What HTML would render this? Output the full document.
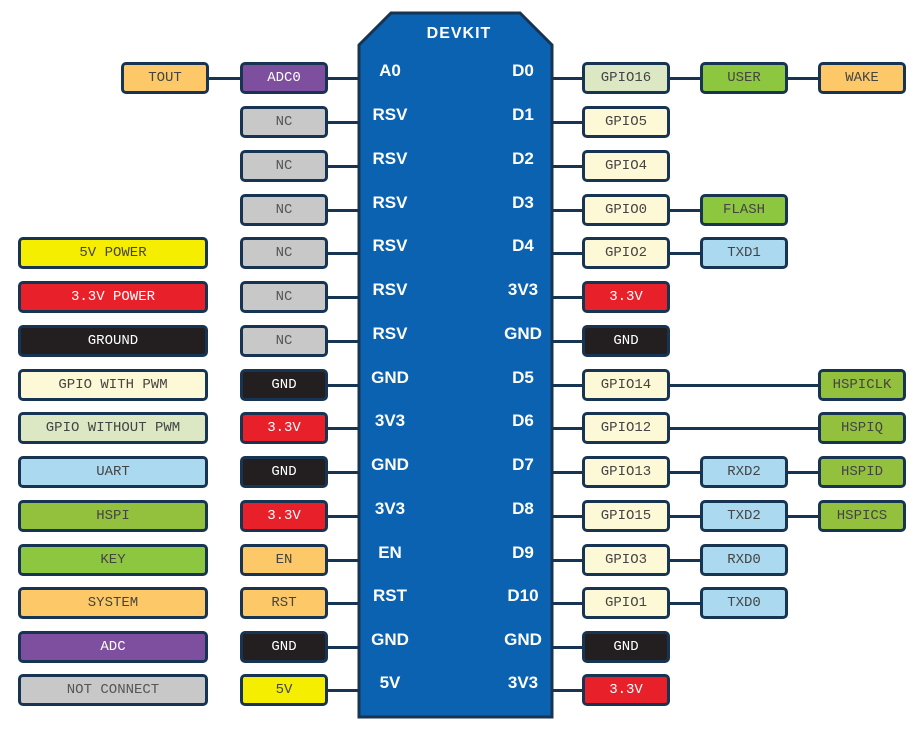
<!DOCTYPE html>
<html><head><meta charset="utf-8"><style>
body{margin:0;width:921px;height:731px;background:#fff;position:relative;overflow:hidden;font-family:"Liberation Mono",monospace}
.b{position:absolute;height:26px;border:3px solid #173452;border-radius:5px;box-sizing:content-box;text-align:center;line-height:26px;font-size:14px;color:#444}
.l{position:absolute;height:3px;background:#173452}
.p{position:absolute;width:60px;text-align:center;font-family:"Liberation Sans",sans-serif;font-weight:bold;font-size:17px;color:#fff}
</style></head><body>
<svg style="position:absolute;left:0;top:0" width="921" height="731">
<polygon points="391,13 520,13 552,45 552,717 359,717 359,45" fill="#0a62b0" stroke="#173452" stroke-width="3"/>
<text x="459" y="38" fill="#fff" font-family="Liberation Sans" font-weight="bold" font-size="16" text-anchor="middle" letter-spacing="1">DEVKIT</text>
</svg>
<div id="root"></div>
<script>
const C={orange:["#fdc968","#444"],purple:["#7d4f9e","#fff"],nc:["#c8c8c8","#555"],yellow:["#f6ee00","#444"],red:["#e8202a","#fff"],gnd:["#231f20","#fff"],pwm:["#fdf8d5","#444"],nopwm:["#dce8c3","#444"],uart:["#abd9f0","#444"],hspi:["#93c13e","#444"],key:["#8dc63f","#444"]};
const rows=[78,122,166,210,253,297,341,385,428,472,516,560,603,647,690];
const leftPins=["A0","RSV","RSV","RSV","RSV","RSV","RSV","GND","3V3","GND","3V3","EN","RST","GND","5V"];
const rightPins=["D0","D1","D2","D3","D4","3V3","GND","D5","D6","D7","D8","D9","D10","GND","3V3"];
const leftBoxes=[["ADC0","purple"],["NC","nc"],["NC","nc"],["NC","nc"],["NC","nc"],["NC","nc"],["NC","nc"],["GND","gnd"],["3.3V","red"],["GND","gnd"],["3.3V","red"],["EN","orange"],["RST","orange"],["GND","gnd"],["5V","yellow"]];
const legend=[null,null,null,null,["5V POWER","yellow"],["3.3V POWER","red"],["GROUND","gnd"],["GPIO WITH PWM","pwm"],["GPIO WITHOUT PWM","nopwm"],["UART","uart"],["HSPI","hspi"],["KEY","key"],["SYSTEM","orange"],["ADC","purple"],["NOT CONNECT","nc"]];
const r1=[["GPIO16","nopwm"],["GPIO5","pwm"],["GPIO4","pwm"],["GPIO0","pwm"],["GPIO2","pwm"],["3.3V","red"],["GND","gnd"],["GPIO14","pwm"],["GPIO12","pwm"],["GPIO13","pwm"],["GPIO15","pwm"],["GPIO3","pwm"],["GPIO1","pwm"],["GND","gnd"],["3.3V","red"]];
const r2=[["USER","key"],null,null,["FLASH","key"],["TXD1","uart"],null,null,null,null,["RXD2","uart"],["TXD2","uart"],["RXD0","uart"],["TXD0","uart"],null,null];
const r3=[["WAKE","orange"],null,null,null,null,null,null,["HSPICLK","hspi"],["HSPIQ","hspi"],["HSPID","hspi"],["HSPICS","hspi"],null,null,null,null];
const root=document.getElementById('root');
function line(x1,x2,y){const d=document.createElement('div');d.className='l';


d.style.left=x1+'px';d.style.width=(x2-x1)+'px';d.style.top=(y-1)+'px';root.appendChild(d);}
function box(x,w,y,item,name){const d=document.createElement('div');d.className='b';


d.style.left=x+'px';d.style.width=(w-6)+'px';d.style.top=(y-16)+'px';d.style.background=C[item[1]][0];d.style.color=C[item[1]][1];d.textContent=item[0];root.appendChild(d);}
function pin(x,y,t,name){const d=document.createElement('div');d.className='p';


d.style.left=(x-30)+'px';d.style.top=(y-16)+'px';d.textContent=t;root.appendChild(d);}
rows.forEach((y,i)=>{
 line(325,360,y);line(551,585,y);
 pin(390,y-1,leftPins[i],'board-pin-left');pin(523,y-1,rightPins[i],'board-pin-right');
 box(240,88,y,leftBoxes[i],'left-pin-box');
 if(legend[i])box(18,190,y,legend[i],'legend-entry');
 box(582,88,y,r1[i],'gpio-box');
 if(r2[i]){line(668,702,y);box(700,88,y,r2[i],'function-box');}
 if(r3[i]){line(r2[i]?786:668,820,y);box(818,88,y,r3[i],'function-box-2');}
});
line(205,242,78);box(121,88,78,["TOUT","orange"],'tout-box');
</script>
</body></html>
